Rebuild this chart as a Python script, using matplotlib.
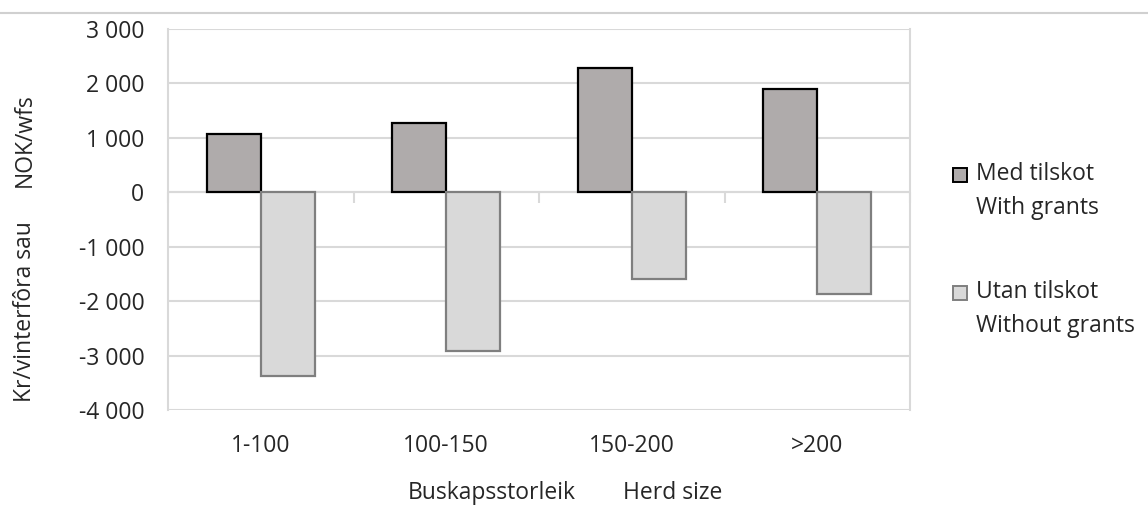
import matplotlib
matplotlib.use("Agg")
import matplotlib.pyplot as plt
from matplotlib.patches import Rectangle
from matplotlib.lines import Line2D
from matplotlib.markers import TICKDOWN
from matplotlib.ticker import FuncFormatter
import numpy as np

categories = ["1-100", "100-150", "150-200", ">200"]
with_grants = [1080, 1275, 2290, 1890]
without_grants = [-3380, -2920, -1590, -1860]
series_labels = [("Med tilskot", "With grants"), ("Utan tilskot", "Without grants")]
y_ticks = [-4000, -3000, -2000, -1000, 0, 1000, 2000, 3000]
y_label_parts = ["Kr/vinterfôra sau", "NOK/wfs"]
x_label_parts = ["Buskapsstorleik", "Herd size"]

FONT = ["Open Sans", "DejaVu Sans"]
plt.rcParams["font.family"] = FONT
FS = 16.5
TXT = "#262626"
GRID = "#D9D9D9"
C1, E1 = "#AFABAB", "#000000"
C2, E2 = "#D9D9D9", "#7F7F7F"

W, H = 1148, 511
fig = plt.figure(figsize=(W / 100, H / 100), dpi=100)
ax = fig.add_axes([168 / W, 1 - 410 / H, (910 - 168) / W, (410 - 29) / H])

x = np.arange(len(categories))
bw = 0.29
ax.bar(x - bw / 2, with_grants, bw, color=C1, edgecolor=E1, linewidth=1.6, zorder=3)
ax.bar(x + bw / 2, without_grants, bw, color=C2, edgecolor=E2, linewidth=1.6, zorder=3)

ax.set_xlim(-0.5, len(categories) - 0.5)
ax.set_ylim(-4000, 3000)
ax.set_yticks(y_ticks)
ax.yaxis.set_major_formatter(FuncFormatter(lambda v, p: f"{int(v):,}".replace(",", " ")))
ax.grid(axis="y", color=GRID, linewidth=1.5, zorder=0)
ax.set_xticks(x)
ax.set_xticklabels(categories)
ax.tick_params(axis="both", length=0, labelsize=FS, colors=TXT)
ax.tick_params(axis="x", pad=17)
ax.tick_params(axis="y", pad=17)
for s in ["top", "bottom"]:
    ax.spines[s].set_visible(False)
for s in ["left", "right"]:
    ax.spines[s].set_color(GRID)
    ax.spines[s].set_linewidth(1.5)

# zero axis line with category-boundary tick marks pointing down
ax.axhline(0, color=GRID, linewidth=1.5, zorder=2)
bounds = np.arange(-0.5, len(categories), 1.0)
ax.plot(bounds, np.zeros_like(bounds), linestyle="none", marker=TICKDOWN,
        markersize=8, markeredgewidth=1.5, color=GRID, zorder=2, clip_on=False)

fig.text(25 / W, 1 - 312 / H, y_label_parts[0], rotation=90, ha="center", va="center", fontsize=FS, color=TXT)
fig.text(25 / W, 1 - 140 / H, y_label_parts[1], rotation=90, ha="center", va="center", fontsize=FS, color=TXT)
fig.text(492 / W, 1 - 493 / H, x_label_parts[0], ha="center", va="center", fontsize=FS, color=TXT)
fig.text(673 / W, 1 - 493 / H, x_label_parts[1], ha="center", va="center", fontsize=FS, color=TXT)

# top border line
fig.add_artist(Line2D([0, 1], [1 - 13 / H, 1 - 13 / H], color="#D0D0D0", linewidth=1.5))

# legend
entries = [(C1, E1, series_labels[0], 175), (C2, E2, series_labels[1], 293)]
for fc, ec, (l1, l2), yc in entries:
    fig.add_artist(Rectangle((953 / W, 1 - (yc + 7) / H), 14 / W, 14 / H, facecolor=fc, edgecolor=ec, linewidth=1.4, transform=fig.transFigure))
    fig.text(976 / W, 1 - (yc - 1) / H, l1, ha="left", va="center", fontsize=FS, color=TXT)
    fig.text(976 / W, 1 - (yc + 33) / H, l2, ha="left", va="center", fontsize=FS, color=TXT)

fig.savefig("out.png", dpi=100)
